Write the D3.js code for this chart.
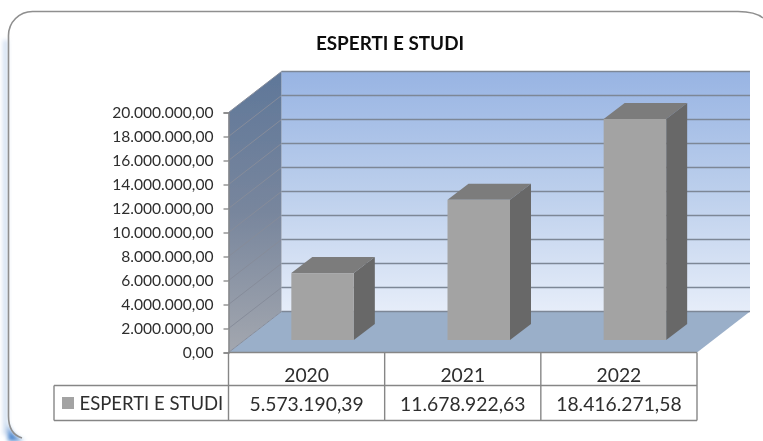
<!DOCTYPE html>
<html>
<head>
<meta charset="utf-8">
<script src="https://cdn.jsdelivr.net/npm/d3@7"></script>
<style>
  html, body { margin: 0; padding: 0; background: #fff; }
  svg { display: block; }
  text { font-family: Lato, "Open Sans", sans-serif; fill: #2e2e2e; }
</style>
</head>
<body>
<div id="chart"></div>
<script>
var chartTitle = "ESPERTI E STUDI";
var seriesName = "ESPERTI E STUDI";
var years = ["2020", "2021", "2022"];
var values = [5573190.39, 11678922.63, 18416271.58];
var valueLabels = ["5.573.190,39", "11.678.922,63", "18.416.271,58"];
var tickValues = [0, 2000000, 4000000, 6000000, 8000000, 10000000, 12000000, 14000000, 16000000, 18000000, 20000000];

var width = 763, height = 441;

// Set the ranges
var x = d3.scaleBand().domain(years).range([228.5, 697]);
var y = d3.scaleLinear().domain([0, 20000000]).range([352.5, 112.5]);

// depth of the 3d box and of each bar
var depth = {x: 53, y: -41};
var barWidth = 62.5;
var barDepth = {x: 21, y: -16};
var barShift = {x: 16, y: -12.5};

var root = d3.select("#chart")
  .append("svg")
    .attr("width", width)
    .attr("height", height);

var defs = root.append("defs");

function addGradient(id, stops) {
  var g = defs.append("linearGradient")
    .attr("id", id)
    .attr("x1", 0).attr("y1", 0).attr("x2", 0).attr("y2", 1);
  stops.forEach(function(s) {
    g.append("stop").attr("offset", s[0]).attr("stop-color", s[1]);
  });
}
addGradient("backWall", [[0, "#98b4e3"], [0.5, "#bccfec"], [1, "#e6edf9"]]);
addGradient("sideWall", [[0, "#5f7799"], [0.5, "#78869d"], [1, "#a3a7af"]]);

function addBlur(id, amount) {
  defs.append("filter")
    .attr("id", id)
    .attr("filterUnits", "userSpaceOnUse")
    .attr("x", 0).attr("y", 0).attr("width", width).attr("height", height)
    .append("feGaussianBlur")
      .attr("stdDeviation", amount);
}
// the reference is a soft screenshot, so everything gets a very slight blur
addBlur("soft", 0.4);
addBlur("shade", 2);

// Pale blue shadow on the left of the frame, stronger in the bottom corner
root.append("rect")
  .attr("x", 3).attr("y", 40)
  .attr("width", 5).attr("height", 395)
  .attr("fill", "#d3e0f2")
  .attr("filter", "url(#shade)");
root.append("path")
  .attr("d", "M8,424 L8,441 L24,441 Q11,436 8,424 Z")
  .attr("fill", "#4a84cc")
  .attr("filter", "url(#shade)");

var svg = root.append("g").attr("filter", "url(#soft)");

var line = d3.line();

// Outer frame: only the left and top edges show, the rest is cut off
svg.append("path")
  .attr("d", "M22,438 Q8.5,434 8.5,416 L8.5,35.5 A24,24 0 0 1 32.5,11.5 L738,11.5 Q755,11.5 763,18")
  .attr("fill", "none")
  .attr("stroke", "#8f8f8f")
  .attr("stroke-width", 1.6);

// Title
svg.append("text")
  .attr("x", 390).attr("y", 50)
  .attr("text-anchor", "middle")
  .attr("font-size", 18.9)
  .attr("font-weight", 700)
  .style("fill", "#111")
  .text(chartTitle);

var x0 = x.range()[0], x1 = x.range()[1];
var y0 = y(0), yTop = y(20000000);

// Back wall
svg.append("path")
  .attr("d", line([[x0 + depth.x, yTop + depth.y], [x1 + depth.x, yTop + depth.y], [x1 + depth.x, y0 + depth.y], [x0 + depth.x, y0 + depth.y]]) + "Z")
  .attr("fill", "url(#backWall)");

// Side wall
svg.append("path")
  .attr("d", line([[x0, yTop], [x0 + depth.x, yTop + depth.y], [x0 + depth.x, y0 + depth.y], [x0, y0]]) + "Z")
  .attr("fill", "url(#sideWall)");

// Floor
svg.append("path")
  .attr("d", line([[x0, y0], [x0 + depth.x, y0 + depth.y], [x1 + depth.x, y0 + depth.y], [x1, y0]]) + "Z")
  .attr("fill", "#9aafc9");

// Gridlines, fainter on the side wall
svg.append("g").selectAll("path")
  .data(tickValues)
  .join("path")
    .attr("d", function(d) {
      return line([[x0, y(d)], [x0 + depth.x, y(d) + depth.y]]);
    })
    .attr("fill", "none")
    .attr("stroke", "#868c9a")
    .attr("stroke-width", 1);

svg.append("g").selectAll("path")
  .data(tickValues)
  .join("path")
    .attr("d", function(d) {
      return line([[x0 + depth.x, y(d) + depth.y], [x1 + depth.x, y(d) + depth.y]]);
    })
    .attr("fill", "none")
    .attr("stroke", "#7d8796")
    .attr("stroke-width", 1.6);

// Y axis, labels are in the italian number format
var numFormat = d3.formatLocale({decimal: ",", thousands: ".", grouping: [3], currency: ["", ""]}).format(",.2f");
var yAxis = d3.axisLeft(y)
  .tickValues(tickValues)
  .tickSize(5)
  .tickPadding(10)
  .tickFormat(numFormat);

var yG = svg.append("g")
  .attr("transform", "translate(" + x0 + ",0)")
  .call(yAxis);
yG.select(".domain").attr("stroke", "#868686").attr("stroke-width", 1.3);
yG.selectAll(".tick line").attr("stroke", "#868686").attr("stroke-width", 1.3);
yG.selectAll(".tick text").attr("font-size", 15.6).attr("font-family", "Lato").style("fill", "#2e2e2e");

// Bars
var bars = svg.append("g").selectAll("g")
  .data(years)
  .join("g");

function barLeft(d) { return x(d) + (x.bandwidth() - barWidth) / 2 + barShift.x; }
function barBottom() { return y0 + barShift.y; }
function barTop(i) { return barBottom() - (y0 - y(values[i])); }

// top face
bars.append("path")
  .attr("d", function(d, i) {
    var l = barLeft(d), t = barTop(i);
    return line([[l, t], [l + barDepth.x, t + barDepth.y], [l + barWidth + barDepth.x, t + barDepth.y], [l + barWidth, t]]) + "Z";
  })
  .attr("fill", "#7b7b7b");

// right face
bars.append("path")
  .attr("d", function(d, i) {
    var l = barLeft(d) + barWidth, t = barTop(i), b = barBottom();
    return line([[l, t], [l + barDepth.x, t + barDepth.y], [l + barDepth.x, b + barDepth.y], [l, b]]) + "Z";
  })
  .attr("fill", "#686868");

// front face
bars.append("rect")
  .attr("x", barLeft)
  .attr("y", function(d, i) { return barTop(i); })
  .attr("width", barWidth)
  .attr("height", function(d, i) { return barBottom() - barTop(i); })
  .attr("fill", "#a3a3a3");

// Data table under the chart
var rowTop = y0, rowMid = 385.5, rowBottom = 420.5, tableLeft = 54;
var table = svg.append("g");

var tablePaths = [
  [[x0, rowTop], [x1, rowTop]],
  [[tableLeft, rowMid], [x1, rowMid]],
  [[tableLeft, rowBottom], [x1, rowBottom]],
  [[tableLeft, rowMid], [tableLeft, rowBottom]],
  [[x0, rowTop], [x0, rowBottom]]
];
years.forEach(function(d) {
  tablePaths.push([[x(d) + x.bandwidth(), rowTop], [x(d) + x.bandwidth(), rowBottom]]);
});
table.selectAll("path")
  .data(tablePaths)
  .join("path")
    .attr("d", line)
    .attr("fill", "none")
    .attr("stroke", "#868686")
    .attr("stroke-width", 1.4);

table.selectAll("text.year")
  .data(years)
  .join("text")
    .attr("class", "year")
    .attr("x", function(d) { return x(d) + x.bandwidth() / 2; })
    .attr("y", 381.5)
    .attr("text-anchor", "middle")
    .attr("font-size", 19.3)
    .text(function(d) { return d; });

table.selectAll("text.value")
  .data(valueLabels)
  .join("text")
    .attr("class", "value")
    .attr("x", function(d, i) { return x(years[i]) + x.bandwidth() / 2; })
    .attr("y", 410.5)
    .attr("text-anchor", "middle")
    .attr("font-size", 19.3)
    .text(function(d) { return d; });

table.append("rect")
  .attr("x", 62).attr("y", 397)
  .attr("width", 12).attr("height", 12)
  .attr("fill", "#a3a3a3");

table.append("text")
  .attr("x", 79.5).attr("y", 410)
  .attr("font-size", 18.5)
  .text(seriesName);
</script>
</body>
</html>
